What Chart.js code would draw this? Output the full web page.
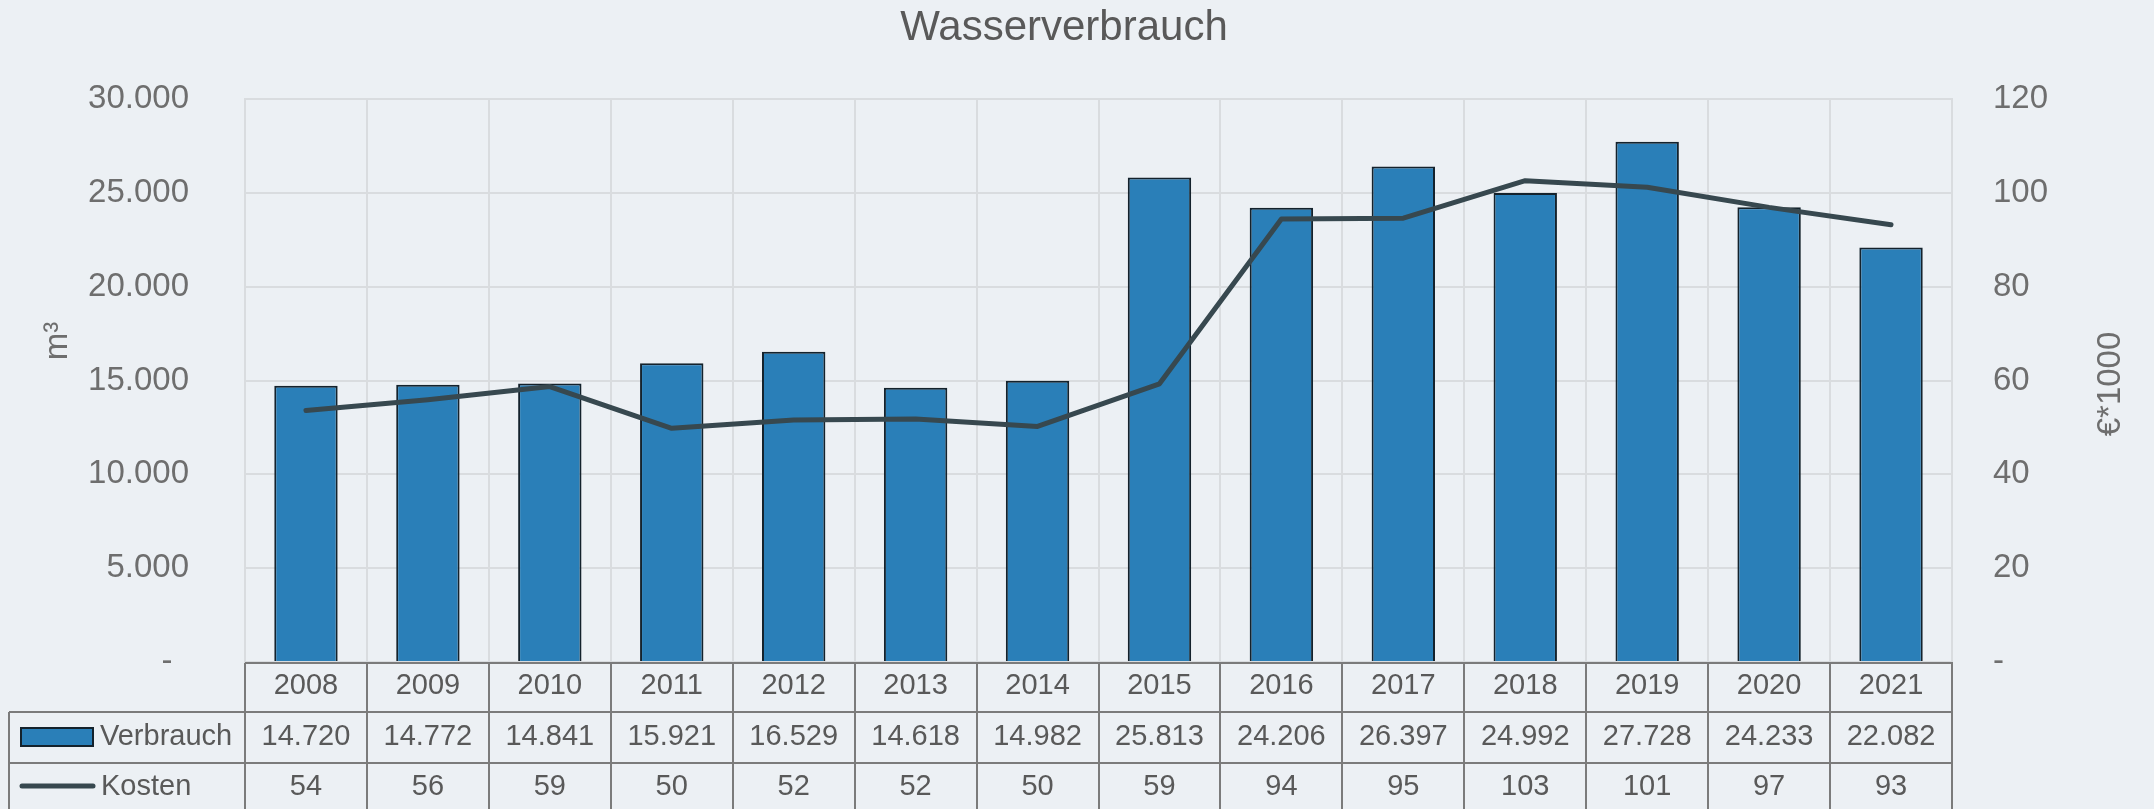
<!DOCTYPE html>
<html>
<head>
<meta charset="utf-8">
<script src="https://cdn.jsdelivr.net/npm/chart.js@4/dist/chart.umd.min.js"></script>
<style>
html,body{margin:0;padding:0;background:#ecf0f4;}
#wrap{width:2154px;height:809px;position:relative;}
</style>
</head>
<body>
<div id="wrap"><canvas id="c" width="2154" height="809"></canvas></div>
<script>
const titleText = 'Wasserverbrauch';
const years = ['2008','2009','2010','2011','2012','2013','2014','2015','2016','2017','2018','2019','2020','2021'];
const verbrauch = [14720,14772,14841,15921,16529,14618,14982,25813,24206,26397,24992,27728,24233,22082];
const kosten = [53.6,55.9,58.7,49.8,51.6,51.8,50.2,59.3,94.4,94.6,102.6,101.2,96.9,93.2];
const leftTicks = [0,5000,10000,15000,20000,25000,30000];
const rightTicks = [0,20,40,60,80,100,120];
const seriesNames = ['Verbrauch','Kosten'];
const axisTitles = ['m³','€*1000'];

const BAR = '#2a7fb8', BAR_EDGE = '#14222c', LINE = '#37484f';
const TXT = '#595959', TICK = '#6e6e6e', GRID = '#d9dcdf', TBL = '#7b7b7b';
const FONT = '"Liberation Sans", Arial, sans-serif';

function fmtThousands(v){
  if (v === 0) return '-';
  return Math.round(v).toString().replace(/\B(?=(\d{3})+(?!\d))/g, '.');
}

const deco = {
  id: 'deco',
  beforeDraw(chart){
    const ctx = chart.ctx;
    ctx.save();
    ctx.fillStyle = '#ecf0f4';
    ctx.fillRect(0,0,chart.width,chart.height);
    ctx.restore();
  },
  afterDraw(chart){
    const ctx = chart.ctx, ca = chart.chartArea, xs = chart.scales.x;
    const n = years.length;
    const cw = (ca.right - ca.left) / n;
    const tTop = ca.bottom + 1, r1 = 712, r2 = 763, tBot = chart.height + 2, tLeft = 9;
    ctx.save();
    // title
    ctx.fillStyle = TXT;
    ctx.font = '42px ' + FONT;
    ctx.textAlign = 'center';
    ctx.textBaseline = 'middle';
    ctx.fillText(titleText, 1064, 28);
    // axis titles
    ctx.font = '33px ' + FONT;
    ctx.fillStyle = TICK;
    ctx.save(); ctx.translate(58, 341); ctx.rotate(-Math.PI/2); ctx.fillText(axisTitles[0], 0, 0); ctx.restore();
    ctx.save(); ctx.translate(2111, 384); ctx.rotate(-Math.PI/2); ctx.fillText(axisTitles[1], 0, 0); ctx.restore();
    // table lines
    ctx.strokeStyle = TBL;
    ctx.lineWidth = 2;
    ctx.beginPath();
    ctx.moveTo(ca.left, tTop); ctx.lineTo(ca.right + 1, tTop);
    ctx.moveTo(tLeft, r1); ctx.lineTo(ca.right + 1, r1);
    ctx.moveTo(tLeft, r2); ctx.lineTo(ca.right + 1, r2);
    ctx.moveTo(tLeft, r1); ctx.lineTo(tLeft, tBot);
    for (let i = 0; i <= n; i++) {
      const x = Math.round(ca.left + i * cw);
      ctx.moveTo(x, tTop); ctx.lineTo(x, tBot);
    }
    ctx.stroke();
    // table text
    ctx.fillStyle = TXT;
    ctx.font = '29px ' + FONT;
    ctx.textAlign = 'center';
    for (let i = 0; i < n; i++) {
      const x = xs.getPixelForValue(i);
      ctx.fillText(years[i], x, 686);
      ctx.fillText(fmtThousands(verbrauch[i]), x, 737);
      ctx.fillText(String(Math.round(kosten[i])), x, 787);
    }
    // legend keys
    ctx.fillStyle = BAR; ctx.strokeStyle = BAR_EDGE; ctx.lineWidth = 2;
    ctx.fillRect(21, 728, 72, 18); ctx.strokeRect(21, 728, 72, 18);
    ctx.strokeStyle = LINE; ctx.lineWidth = 5; ctx.lineCap = 'round';
    ctx.beginPath(); ctx.moveTo(22, 786); ctx.lineTo(93, 786); ctx.stroke();
    ctx.fillStyle = TXT; ctx.textAlign = 'left';
    ctx.fillText(seriesNames[0], 100, 737);
    ctx.fillText(seriesNames[1], 101, 787);
    ctx.restore();
  }
};

new Chart(document.getElementById('c'), {
  type: 'bar',
  data: {
    labels: years,
    datasets: [
      { type: 'line', label: seriesNames[1], data: kosten, yAxisID: 'y1', borderColor: LINE, backgroundColor: LINE,
        borderWidth: 5, pointRadius: 0, tension: 0, order: 0, borderCapStyle: 'round', borderJoinStyle: 'round' },
      { type: 'bar', label: seriesNames[0], data: verbrauch, yAxisID: 'y', backgroundColor: BAR, borderColor: BAR_EDGE,
        borderWidth: 2, barPercentage: 0.52, categoryPercentage: 1, order: 1 }
    ]
  },
  options: {
    responsive: false,
    animation: false,
    layout: { padding: { top: 99, left: 0, right: 0, bottom: 0 } },
    plugins: { legend: { display: false }, title: { display: false }, tooltip: { enabled: false } },
    scales: {
      x: {
        grid: { display: true, color: GRID, lineWidth: 2, drawTicks: false, offset: true },
        border: { display: false },
        ticks: { display: false },
        afterFit(s){ s.height = 147; }
      },
      y: {
        position: 'left', min: 0, max: 30000,
        afterBuildTicks(s){ s.ticks = leftTicks.map(v => ({ value: v })); },
        ticks: { callback: v => v === 0 ? '-\u2002' : fmtThousands(v), color: TICK, font: { size: 33, family: FONT }, padding: 56 },
        grid: { color: GRID, lineWidth: 2, drawTicks: false },
        border: { display: true, color: GRID, width: 2 },
        afterFit(s){ s.width = 245; }
      },
      y1: {
        position: 'right', min: 0, max: 120,
        afterBuildTicks(s){ s.ticks = rightTicks.map(v => ({ value: v })); },
        ticks: { callback: v => v === 0 ? '-' : String(v), color: TICK, font: { size: 33, family: FONT }, padding: 41 },
        grid: { display: false, drawTicks: false },
        border: { display: true, color: GRID, width: 2 },
        afterFit(s){ s.width = 202; }
      }
    }
  },
  plugins: [deco]
});
</script>
</body>
</html>
